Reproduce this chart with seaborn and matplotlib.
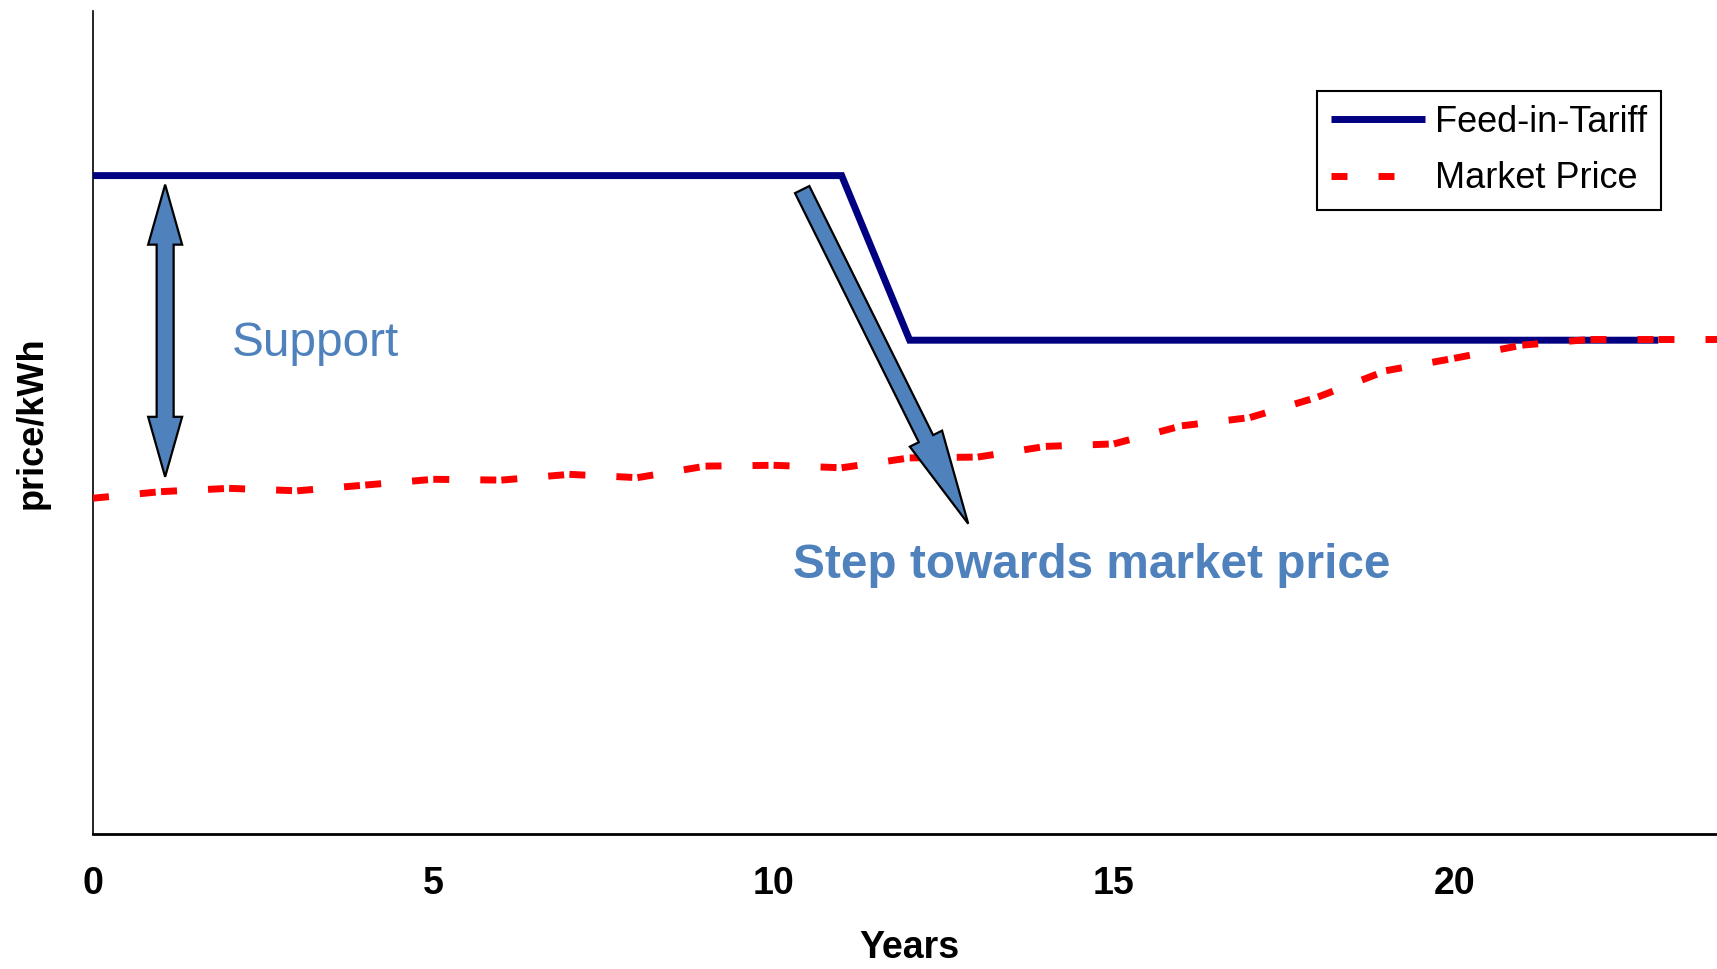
import numpy as np
import pandas as pd
import matplotlib
matplotlib.use("Agg")
import matplotlib.pyplot as plt
import seaborn as sns
from matplotlib.lines import Line2D
from matplotlib.patches import Polygon
from matplotlib.transforms import IdentityTransform

# ---------------- data ----------------
fit_years = [0, 1, 2, 3, 4, 5, 6, 7, 8, 9, 10, 11,
             12, 13, 14, 15, 16, 17, 18, 19, 20, 21, 22, 23]
fit_values = [8, 8, 8, 8, 8, 8, 8, 8, 8, 8, 8, 8,
              6, 6, 6, 6, 6, 6, 6, 6, 6, 6, 6, 6]

market_years = [0, 1, 2, 3, 4, 5, 6, 7, 8, 9, 10, 11, 12,
                13, 14, 15, 16, 17, 18, 19, 20, 21, 22, 23, 24]
market_values = [4.08, 4.16, 4.20, 4.17, 4.24, 4.31, 4.30, 4.37, 4.33, 4.47,
                 4.48, 4.45, 4.57, 4.58, 4.71, 4.74, 4.96, 5.06, 5.31, 5.63,
                 5.78, 5.94, 6.01, 6.01, 6.01]

x_ticks = [0, 5, 10, 15, 20]
series_labels = ["Feed-in-Tariff", "Market Price"]
x_label = "Years"
y_label = "price/kWh"
support_text = "Support"
step_text = "Step towards market price"

# ---------------- style ----------------
sns.set_theme(style="white")
plt.rcParams['font.family'] = ['Liberation Sans', 'DejaVu Sans']

NAVY = "#000080"
RED = "#FF0000"
ARROW_BLUE = "#4F81BD"
LW = 5.0
DASH = (0, (2.3, 4.47))

fig = plt.figure(figsize=(17.17, 9.69), dpi=100)
ax = fig.add_axes([93 / 1717, 1 - 834 / 969, (1726.4 - 93) / 1717, (834 - 11) / 969])

fit_df = pd.DataFrame({"Years": fit_years, "price": fit_values})
sns.lineplot(data=fit_df, x="Years", y="price", ax=ax, color=NAVY, lw=LW,
             solid_capstyle="butt", solid_joinstyle="miter", zorder=3)

# market price: each yearly segment its own line (dash pattern restarts)
rows = []
for i in range(len(market_years) - 1):
    for j in (i, i + 1):
        rows.append({"Years": market_years[j], "price": market_values[j], "seg": i})
mp_df = pd.DataFrame(rows)
sns.lineplot(data=mp_df, x="Years", y="price", units="seg", estimator=None, ax=ax,
             color=RED, lw=LW, linestyle=DASH, dash_capstyle="butt", zorder=3)

ax.set_xlim(0, 24)
ax.set_ylim(0, 10)
ax.set_xticks(x_ticks)
ax.set_yticks([])
ax.tick_params(axis="x", direction="in", length=7.2, width=1.1, pad=23,
               labelsize=27, colors="black")
for lab in ax.get_xticklabels():
    lab.set_fontweight("bold")
for s in ("top", "right"):
    ax.spines[s].set_visible(False)
ax.spines["bottom"].set_linewidth(2.0)
ax.spines["left"].set_linewidth(1.2)
ax.spines["bottom"].set_color("black")
ax.spines["left"].set_color("black")

ax.set_xlabel(x_label, fontsize=27, fontweight="bold", labelpad=20, color="black")
ax.set_ylabel(y_label, fontsize=26, fontweight="bold", labelpad=31, color="black")

handles = [Line2D([], [], color=NAVY, lw=LW, solid_capstyle="butt"),
           Line2D([], [], color=RED, lw=LW, linestyle=DASH, dash_capstyle="butt")]
leg = ax.legend(handles, series_labels, loc="upper left",
                bbox_to_anchor=(1317 / 1717, 1 - 91 / 969), bbox_transform=fig.transFigure,
                frameon=True, fancybox=False, edgecolor="black", fontsize=26,
                handlelength=2.6, handletextpad=0.3, borderpad=0.38,
                labelspacing=0.6, borderaxespad=0, framealpha=1)
leg.get_frame().set_linewidth(1.5)
for t in leg.get_texts():
    t.set_color("black")


def block_arrow(start, end, shaft_w, head_w, head_len, double=False):
    p0 = ax.transData.transform(start)
    p1 = ax.transData.transform(end)
    d = p1 - p0
    u = d / np.hypot(*d)
    n = np.array([-u[1], u[0]])
    sw, hw = shaft_w / 2, head_w / 2
    pts = []
    if double:
        a = p0 + u * head_len
        pts += [p0, a + n * hw, a + n * sw]
    else:
        pts += [p0 + n * sw]
    b = p1 - u * head_len
    pts += [b + n * sw, b + n * hw, p1, b - n * hw, b - n * sw]
    if double:
        pts += [a - n * sw, a - n * hw]
    else:
        pts += [p0 - n * sw]
    poly = Polygon(pts, closed=True, facecolor=ARROW_BLUE, edgecolor="black",
                   lw=1.6, joinstyle="miter", zorder=5)
    poly.set_transform(IdentityTransform())
    ax.add_artist(poly)


block_arrow((1.06, 7.89), (1.06, 4.34), 17, 34, 60, double=True)
block_arrow((10.42, 7.83), (12.86, 3.77), 16, 36, 95)

ax.text(2.04, 5.81, support_text, fontsize=34.4, color=ARROW_BLUE, ha="left", va="baseline")
ax.text(10.28, 3.11, step_text, fontsize=34.4, fontweight="bold", color=ARROW_BLUE,
        ha="left", va="baseline")

fig.savefig("out.png", dpi=100)
